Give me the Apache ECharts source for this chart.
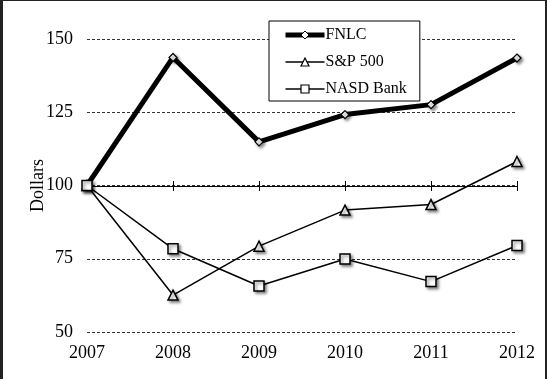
<!DOCTYPE html>
<html>
<head>
<meta charset="utf-8">
<script src="https://cdn.jsdelivr.net/npm/echarts@6/dist/echarts.min.js"></script>
<style>
html,body{margin:0;padding:0;background:#fff;}
#c{width:547px;height:379px;}
</style>
</head>
<body>
<div id="c"></div>
<script>
var years = ['2007','2008','2009','2010','2011','2012'];
var fnlc = [100, 143.7, 114.9, 124.2, 127.6, 143.5];
var sp500 = [100, 62.6, 79.3, 91.6, 93.5, 108.2];
var nasdBank = [100, 78.4, 65.7, 74.9, 67.2, 79.5];
var yTicks = [50, 75, 100, 125, 150];

var font = 'Liberation Serif';
var chart = echarts.init(document.getElementById('c'), null, {renderer: 'canvas'});

var shadow = {shadowBlur: 3, shadowColor: 'rgba(0,0,0,0.45)', shadowOffsetX: 2, shadowOffsetY: 2};

function catAxis(extra) {
  return Object.assign({
    type: 'category',
    data: years,
    boundaryGap: false,
    position: 'bottom',
    axisLine: {show: false},
    axisTick: {show: false},
    axisLabel: {show: false},
    splitLine: {show: false}
  }, extra);
}

chart.setOption({
  animation: false,
  backgroundColor: '#fff',
  grid: {left: 87, right: 30, top: 39, bottom: 47},
  legend: {
    orient: 'vertical',
    left: 269,
    top: 21,
    backgroundColor: '#fff',
    borderColor: '#000',
    borderWidth: 1,
    borderRadius: 0,
    padding: [6, 13, 4, 14],
    itemWidth: 39,
    itemHeight: 10,
    itemGap: 11,
    textStyle: {fontFamily: font, fontSize: 16, fontWeight: 'normal', color: '#000', padding: [0, 0, 0, -4]},
    data: [
      {name: 'FNLC', lineStyle: {width: 5, color: '#000'}, itemStyle: {color: '#fff', borderColor: '#000', borderWidth: 1}},
      {name: 'S&P 500', lineStyle: {width: 1.5, color: '#000'}, itemStyle: {color: '#fff', borderColor: '#000', borderWidth: 1.2}},
      {name: 'NASD Bank', lineStyle: {width: 1.5, color: '#000'}, itemStyle: {color: '#fff', borderColor: '#000', borderWidth: 1.2}}
    ]
  },
  xAxis: [
    catAxis({
      axisLabel: {show: true, fontFamily: font, fontSize: 18, color: '#000', margin: 12}
    }),
    catAxis({
      offset: -146,
      axisLine: {show: true, onZero: false, lineStyle: {color: '#000', width: 1}},
      axisTick: {show: true, inside: false, length: 5, lineStyle: {color: '#000'}}
    }),
    catAxis({
      offset: -146,
      axisTick: {show: true, inside: true, length: 5, lineStyle: {color: '#000'}}
    })
  ],
  yAxis: {
    type: 'value',
    min: 50,
    max: 150,
    interval: 25,
    name: 'Dollars',
    nameLocation: 'middle',
    nameGap: 40,
    nameMoveOverlap: false,
    nameTextStyle: {fontFamily: font, fontSize: 18, color: '#000'},
    axisLine: {show: false},
    axisTick: {show: false},
    axisLabel: {
      fontFamily: font, fontSize: 18, color: '#000', margin: 14,
      formatter: function (v) { return yTicks.indexOf(v) >= 0 ? String(v) : ''; }
    },
    splitLine: {lineStyle: {color: '#333', width: 1, type: [3, 2]}}
  },
  series: [
    {
      name: 'FNLC', type: 'line', data: fnlc,
      symbol: 'diamond', symbolSize: 8,
      lineStyle: {color: '#000', width: 5},
      itemStyle: Object.assign({color: '#fff', borderColor: '#000', borderWidth: 1.2}, shadow)
    },
    {
      name: 'S&P 500', type: 'line', data: sp500,
      symbol: 'triangle', symbolSize: 10,
      lineStyle: {color: '#000', width: 1.5},
      itemStyle: Object.assign({color: '#fff', borderColor: '#000', borderWidth: 1.5}, shadow)
    },
    {
      name: 'NASD Bank', type: 'line', data: nasdBank,
      symbol: 'rect', symbolSize: 10,
      lineStyle: {color: '#000', width: 1.5},
      itemStyle: Object.assign({color: '#fff', borderColor: '#000', borderWidth: 1.5}, shadow)
    }
  ],
  graphic: [
    {type: 'rect', left: 0, top: 0, shape: {width: 3, height: 379}, style: {fill: '#222'}, silent: true},
    {type: 'rect', left: 0, top: 0, shape: {width: 547, height: 1}, style: {fill: '#222'}, silent: true},
    {type: 'rect', right: 0, top: 0, shape: {width: 2, height: 379}, style: {fill: '#222'}, silent: true}
  ]
});
</script>
</body>
</html>
